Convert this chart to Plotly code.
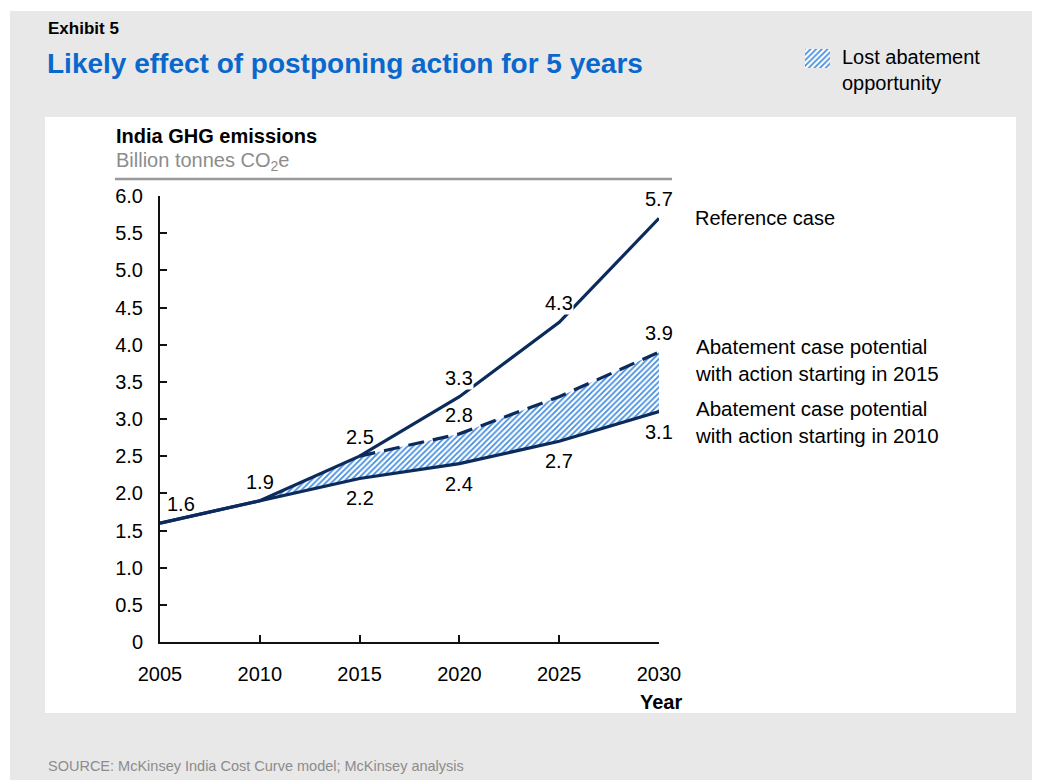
import plotly.graph_objects as go

# ---------------- data ----------------
years = [2005, 2010, 2015, 2020, 2025, 2030]
reference_case = [1.6, 1.9, 2.5, 3.3, 4.3, 5.7]
abatement_2015_years = [2015, 2020, 2025, 2030]
abatement_2015 = [2.5, 2.8, 3.3, 3.9]
abatement_2010 = [1.6, 1.9, 2.2, 2.4, 2.7, 3.1]
ytick_vals = [0, 0.5, 1.0, 1.5, 2.0, 2.5, 3.0, 3.5, 4.0, 4.5, 5.0, 5.5, 6.0]
ytick_text = ["0", "0.5", "1.0", "1.5", "2.0", "2.5", "3.0", "3.5", "4.0", "4.5", "5.0", "5.5", "6.0"]

# value labels shown on the chart (which points carry a label)
ref_label_idx = [0, 1, 2, 3, 4, 5]
ab15_label_idx = [1, 3]
ab10_label_idx = [2, 3, 4, 5]
ref_label_knockout = [3, 4]   # labels that break the line behind them

# ---------------- styles ----------------
W, H = 1037, 783
FONT = "Liberation Sans, Arial, sans-serif"
NAVY = "#0b2b5c"
BLUE_T = "#0a68cc"
HATCH = "#3f8be0"
PATTERN = dict(shape="/", fgcolor=HATCH, bgcolor="white", size=4, solidity=0.42)


def px(x):
    return x / W


def py(y):
    return 1 - y / H


# lost-abatement band: lower = 2010 case, upper = reference up to 2015 then 2015 case
band_years = years[1:]
band_lower = abatement_2010[1:]
band_upper = [reference_case[1]] + abatement_2015

fig = go.Figure()

fig.add_trace(go.Scatter(x=band_years, y=band_lower, mode="lines",
                         line=dict(width=0, color=HATCH), hoverinfo="skip",
                         showlegend=False))
fig.add_trace(go.Scatter(x=band_years, y=band_upper, mode="lines",
                         line=dict(width=0, color=HATCH), fill="tonexty",
                         fillcolor="white", fillpattern=PATTERN,
                         hoverinfo="skip", showlegend=False))

fig.add_trace(go.Scatter(x=years, y=abatement_2010, mode="lines",
                         line=dict(color=NAVY, width=3.2), showlegend=False))
fig.add_trace(go.Scatter(x=abatement_2015_years, y=abatement_2015, mode="lines",
                         line=dict(color=NAVY, width=3.2, dash="16px,9px"), showlegend=False))
fig.add_trace(go.Scatter(x=years, y=reference_case, mode="lines",
                         line=dict(color=NAVY, width=3.2), showlegend=False))

# legend swatch
fig.add_trace(go.Bar(x=[0], y=[1], width=[1], xaxis="x2", yaxis="y2",
                     marker=dict(color="white", line=dict(width=0), pattern=PATTERN),
                     hoverinfo="skip", showlegend=False))

annotations = []


def val_label(x, y, yshift, xshift=0, knockout=False):
    annotations.append(dict(x=x, y=y, xref="x", yref="y", text=f"{y:.1f}",
                            showarrow=False, xshift=xshift, yshift=yshift,
                            font=dict(family=FONT, size=20, color="black"),
                            bgcolor="white" if knockout else "rgba(0,0,0,0)", borderpad=0))


for i in ref_label_idx:
    val_label(years[i], reference_case[i], 19, 21 if i == 0 else 0, i in ref_label_knockout)
for i in ab15_label_idx:
    val_label(abatement_2015_years[i], abatement_2015[i], 19)
for i in ab10_label_idx:
    val_label(years[i], abatement_2010[i], -20)


def text(x, y, s, size=20, color="black", bold=False, xanchor="left", align="left"):
    if bold:
        s = f"<b>{s}</b>"
    annotations.append(dict(x=px(x), y=py(y), xref="paper", yref="paper", text=s,
                            showarrow=False, xanchor=xanchor, yanchor="middle",
                            align=align, font=dict(family=FONT, size=size, color=color)))


text(46, 29, "Exhibit 5", size=17, bold=True)
text(45, 63, "Likely effect of postponing action for 5 years", size=28, color=BLUE_T, bold=True)
text(840, 70, "Lost abatement<br>opportunity", size=20)
text(114, 136, "India GHG emissions", size=20, bold=True)
text(114, 161, "Billion tonnes CO<sub>2</sub>e", size=20, color="#8c8c8c")
text(693, 218, "Reference case", size=20)
text(693, 360, "Abatement case potential<br>with action starting in 2015", size=20.5)
text(693, 422, "Abatement case potential<br>with action starting in 2010", size=20.5)
text(684, 702, "Year", size=20, bold=True, xanchor="right", align="right")
text(46, 766, "SOURCE: McKinsey India Cost Curve model; McKinsey analysis", size=14.5, color="#8c8c8c")

shapes = [
    dict(type="rect", xref="paper", yref="paper", x0=px(10), x1=px(1032), y0=py(780), y1=py(11),
         fillcolor="#e8e8e8", line=dict(width=0), layer="below"),
    dict(type="rect", xref="paper", yref="paper", x0=px(45), x1=px(1016), y0=py(713), y1=py(117),
         fillcolor="white", line=dict(width=0), layer="below"),
    dict(type="line", xref="paper", yref="paper", x0=px(115), x1=px(672), y0=py(179), y1=py(179),
         line=dict(color="#999999", width=2.5), layer="below"),
]

fig.update_layout(
    template="none",
    width=W, height=H,
    margin=dict(l=0, r=0, t=0, b=0, autoexpand=False),
    paper_bgcolor="white",
    plot_bgcolor="rgba(0,0,0,0)",
    showlegend=False,
    shapes=shapes,
    annotations=annotations,
    xaxis=dict(domain=[px(160), px(659)], range=[2005, 2030], tickvals=years,
               ticks="inside", ticklen=7, tickwidth=2, tickcolor="#111",
               showline=True, linecolor="#111", linewidth=2, showgrid=False, zeroline=False,
               tickfont=dict(family=FONT, size=20, color="black"), ticklabelstandoff=13,
               automargin=False, fixedrange=True),
    yaxis=dict(domain=[py(642), py(196)], range=[0, 6], tickvals=ytick_vals, ticktext=ytick_text,
               ticks="inside", ticklen=7, tickwidth=2, tickcolor="#111",
               showline=True, linecolor="#111", linewidth=2, showgrid=False, zeroline=False,
               tickfont=dict(family=FONT, size=20, color="black"), ticklabelstandoff=11,
               automargin=False, fixedrange=True),
    xaxis2=dict(domain=[px(805), px(830)], range=[-0.5, 0.5], visible=False, anchor="y2",
                automargin=False, fixedrange=True),
    yaxis2=dict(domain=[py(68), py(49)], range=[0, 1], visible=False, anchor="x2",
                automargin=False, fixedrange=True),
    bargap=0,
)

fig.write_html("out.html",
               config={"displayModeBar": False, "staticPlot": True},
               post_script="document.body.style.margin='0';document.body.style.padding='0';"
                           "document.body.style.overflow='hidden';")
